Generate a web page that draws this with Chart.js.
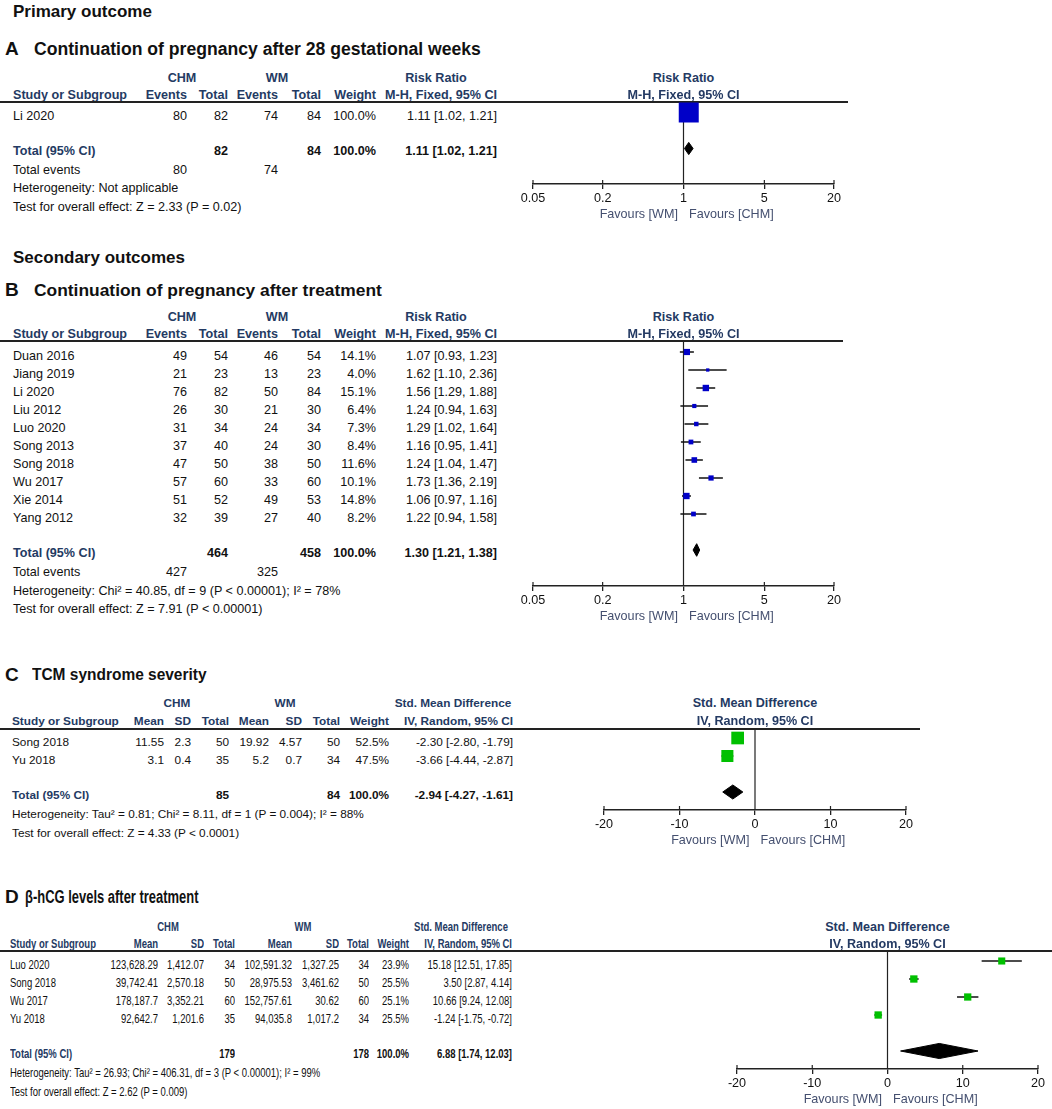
<!DOCTYPE html>
<html>
<head>
<meta charset="utf-8">
<script src="https://cdn.jsdelivr.net/npm/chart.js@4.4.1/dist/chart.umd.min.js"></script>
<style>
  body { margin: 0; background: #fff; }
  #page { position: relative; width: 1052px; height: 1109px; overflow: hidden;
          font-family: "Liberation Sans", Arial, sans-serif; color: #111; }
  .t { position: absolute; width: 440px; height: 20px; line-height: 20px; white-space: nowrap; }
  .hl { position: absolute; left: 0; height: 1.5px; background: #222; }
  canvas { position: absolute; }
</style>
</head>
<body>
<div id="page"></div>
<script>
// ---- A: continuation of pregnancy after 28 gestational weeks ----
const studiesA = ['Li 2020'];
const chmEventsA = [80];
const chmTotalA = [82];
const wmEventsA = [74];
const wmTotalA = [84];
const weightA = [100.0];
const rrA = [1.11];
const loA = [1.02];
const hiA = [1.21];
const totalA = [1.11, 1.02, 1.21];

// ---- B: continuation of pregnancy after treatment ----
const studiesB = ['Duan 2016', 'Jiang 2019', 'Li 2020', 'Liu 2012', 'Luo 2020',
                  'Song 2013', 'Song 2018', 'Wu 2017', 'Xie 2014', 'Yang 2012'];
const chmEventsB = [49, 21, 76, 26, 31, 37, 47, 57, 51, 32];
const chmTotalB = [54, 23, 82, 30, 34, 40, 50, 60, 52, 39];
const wmEventsB = [46, 13, 50, 21, 24, 24, 38, 33, 49, 27];
const wmTotalB = [54, 23, 84, 30, 34, 30, 50, 60, 53, 40];
const weightB = [14.1, 4.0, 15.1, 6.4, 7.3, 8.4, 11.6, 10.1, 14.8, 8.2];
const rrB = [1.07, 1.62, 1.56, 1.24, 1.29, 1.16, 1.24, 1.73, 1.06, 1.22];
const loB = [0.93, 1.10, 1.29, 0.94, 1.02, 0.95, 1.04, 1.36, 0.97, 0.94];
const hiB = [1.23, 2.36, 1.88, 1.63, 1.64, 1.41, 1.47, 2.19, 1.16, 1.58];
const totalB = [1.30, 1.21, 1.38];

// ---- C: TCM syndrome severity ----
const studiesC = ['Song 2018', 'Yu 2018'];
const chmMeanC = ['11.55', '3.1'];
const chmSdC = ['2.3', '0.4'];
const chmNC = [50, 35];
const wmMeanC = ['19.92', '5.2'];
const wmSdC = ['4.57', '0.7'];
const wmNC = [50, 34];
const weightC = [52.5, 47.5];
const smdC = [-2.30, -3.66];
const loC = [-2.80, -4.44];
const hiC = [-1.79, -2.87];
const totalC = [-2.94, -4.27, -1.61];

// ---- D: beta-hCG levels after treatment ----
const studiesD = ['Luo 2020', 'Song 2018', 'Wu 2017', 'Yu 2018'];
const chmMeanD = ['123,628.29', '39,742.41', '178,187.7', '92,642.7'];
const chmSdD = ['1,412.07', '2,570.18', '3,352.21', '1,201.6'];
const chmND = [34, 50, 60, 35];
const wmMeanD = ['102,591.32', '28,975.53', '152,757.61', '94,035.8'];
const wmSdD = ['1,327.25', '3,461.62', '30.62', '1,017.2'];
const wmND = [34, 50, 60, 34];
const weightD = [23.9, 25.5, 25.1, 25.5];
const smdD = [15.18, 3.50, 10.66, -1.24];
const loD = [12.51, 2.87, 9.24, -1.75];
const hiD = [17.85, 4.14, 12.08, -0.72];
const totalD = [6.88, 1.74, 12.03];

const ticksRR = [0.05, 0.2, 1, 5, 20];
const ticksSMD = [-20, -10, 0, 10, 20];

const page = document.getElementById('page');
const HEAD = '#243a63';
const FAV = '#444f6f';
const ROW = 18;
Chart.defaults.font.family = '"Liberation Sans", Arial, sans-serif';

function txt(x, y, s, o) {
  o = o || {};
  const a = o.a || 'l';
  const w = 440;
  const d = document.createElement('div');
  d.className = 't';
  d.textContent = s;
  d.style.left = (a === 'l' ? x : a === 'r' ? x - w : x - w / 2) + 'px';
  d.style.top = (y - 10) + 'px';
  d.style.textAlign = a === 'l' ? 'left' : a === 'r' ? 'right' : 'center';
  d.style.fontSize = (o.sz || 12.6) + 'px';
  if (o.b) d.style.fontWeight = 'bold';
  d.style.color = o.c || '#111';
  if (o.sx) {
    d.style.transform = 'scaleX(' + o.sx + ')';
    d.style.transformOrigin = (a === 'l' ? 'left' : a === 'r' ? 'right' : 'center') + ' center';
  }
  page.appendChild(d);
}

function hline(y, w) {
  const d = document.createElement('div');
  d.className = 'hl';
  d.style.top = (y - 0.75) + 'px';
  d.style.width = w + 'px';
  page.appendChild(d);
}

const sum = arr => arr.reduce((s, v) => s + v, 0);
const pct = v => v.toFixed(1) + '%';
const ci = (e, l, h) => e.toFixed(2) + ' [' + l.toFixed(2) + ', ' + h.toFixed(2) + ']';

function table(p) {
  const base = { sz: p.sz, sx: p.sx };
  const head = Object.assign({ b: 1, c: HEAD }, base);
  p.h1.forEach(h => txt(h[0], p.yH1, h[1], Object.assign({ a: 'c' }, head)));
  txt(p.sX, p.yH2, 'Study or Subgroup', head);
  p.h2.forEach((h, j) => txt(p.cX[j], p.yH2, h, Object.assign({ a: 'r' }, head)));
  hline(p.yLine, p.lineW);
  p.rows.forEach((r, i) => {
    const y = p.yRow + i * ROW;
    txt(p.sX, y, r[0], base);
    r.slice(1).forEach((c, j) => txt(p.cX[j], y, String(c), Object.assign({ a: 'r' }, base)));
  });
  txt(p.sX, p.yTot, 'Total (95% CI)', head);
  p.tot.forEach((c, j) => {
    if (c !== '') txt(p.cX[j], p.yTot, String(c), Object.assign({ a: 'r', b: 1 }, base));
  });
  p.notes.forEach(nt => {
    txt(p.sX, nt[0], nt[1], base);
    (nt[2] || []).forEach((c, j) => {
      if (c !== '') txt(p.cX[j], nt[0], String(c), Object.assign({ a: 'r' }, base));
    });
  });
}

// vertical line of no effect, plus the small upward half of each tick
const refPlugin = {
  id: 'refLine',
  beforeDatasetsDraw(chart, args, opts) {
    const ctx = chart.ctx, x = chart.scales.x, a = chart.chartArea;
    const px = x.getPixelForValue(opts.value);
    ctx.save();
    ctx.strokeStyle = '#222';
    ctx.lineWidth = 1.2;
    ctx.beginPath();
    ctx.moveTo(px, a.top);
    ctx.lineTo(px, a.bottom);
    x.ticks.forEach(t => {
      const tx = x.getPixelForValue(t.value);
      ctx.moveTo(tx, a.bottom - 4);
      ctx.lineTo(tx, a.bottom);
    });
    ctx.stroke();
    ctx.restore();
  }
};

function forest(o) {
  const n = o.est.length;
  const totRow = n + 1;
  const pad = 22, axH = 24;
  const ymin = -(o.first - o.top) / ROW;
  const ymax = (o.axis - o.first) / ROW;
  const cv = document.createElement('canvas');
  cv.width = o.right - o.left + 2 * pad;
  cv.height = Math.round((ymax - ymin) * ROW) + axH;
  cv.style.left = (o.left - pad) + 'px';
  cv.style.top = o.top + 'px';
  page.appendChild(cv);

  const datasets = [];
  for (let i = 0; i < n; i++) {
    datasets.push({
      data: [{ x: o.lo[i], y: i }, { x: o.hi[i], y: i }],
      showLine: true, borderColor: '#111', borderWidth: 1.5, pointRadius: 0, clip: false, order: 2
    });
  }
  datasets.push({
    data: o.est.map((v, i) => ({ x: v, y: i })),
    pointStyle: 'rect',
    pointRadius: o.wt.map(w => o.k * Math.sqrt(w) / Math.SQRT2),
    backgroundColor: o.color, borderWidth: 0, clip: false, order: 1
  });
  const t = o.tot;
  datasets.push({
    data: [{ x: t[1], y: totRow }, { x: t[0], y: totRow - o.dh }, { x: t[2], y: totRow },
           { x: t[0], y: totRow + o.dh }, { x: t[1], y: totRow }],
    showLine: true, fill: 'shape', tension: 0, backgroundColor: '#000',
    borderColor: '#000', borderWidth: 1, pointRadius: 0, clip: false, order: 1
  });

  const chart = new Chart(cv.getContext('2d'), {
    type: 'scatter',
    data: { datasets },
    options: {
      responsive: false,
      animation: false,
      events: [],
      layout: { autoPadding: false, padding: { left: pad, right: pad, top: 0, bottom: 0 } },
      plugins: { legend: { display: false }, tooltip: { enabled: false }, refLine: { value: o.ref } },
      scales: {
        x: {
          type: o.log ? 'logarithmic' : 'linear',
          min: o.ticks[0], max: o.ticks[o.ticks.length - 1],
          afterBuildTicks: s => { s.ticks = o.ticks.map(v => ({ value: v })); },
          afterFit: s => { s.height = axH; s.paddingLeft = 0; s.paddingRight = 0; },
          ticks: { callback: v => String(v), font: { size: 12.6 }, color: '#111',
                   padding: 2, maxRotation: 0, autoSkip: false },
          grid: { drawOnChartArea: false, drawTicks: true, tickLength: 5, color: '#222', lineWidth: 1.3 },
          border: { display: true, color: '#222', width: 1.6 }
        },
        y: { type: 'linear', min: ymin, max: ymax, reverse: true, display: false }
      }
    },
    plugins: [refPlugin]
  });

  const cx = o.left - pad + chart.scales.x.getPixelForValue(o.ref);
  txt(cx, o.yH1, o.head[0], { a: 'c', b: 1, c: HEAD });
  txt(cx, o.yH2, o.head[1], { a: 'c', b: 1, c: HEAD });
  txt(cx - 5.5, o.axis + 30, 'Favours [WM]', { a: 'r', c: FAV });
  txt(cx + 5.5, o.axis + 30, 'Favours [CHM]', { a: 'l', c: FAV });
}

// ---------- titles ----------
txt(13, 12, 'Primary outcome', { b: 1, sz: 17 });
txt(5, 49, 'A', { b: 1, sz: 19 });
txt(34, 49, 'Continuation of pregnancy after 28 gestational weeks', { b: 1, sz: 17.6 });
txt(13, 258, 'Secondary outcomes', { b: 1, sz: 17 });
txt(5, 290, 'B', { b: 1, sz: 19 });
txt(34, 290, 'Continuation of pregnancy after treatment', { b: 1, sz: 17.4 });
txt(5, 675, 'C', { b: 1, sz: 19 });
txt(32, 675, 'TCM syndrome severity', { b: 1, sz: 17, sx: 0.91 });
txt(5, 897, 'D', { b: 1, sz: 19 });
txt(25, 897, 'β-hCG levels after treatment', { b: 1, sz: 18, sx: 0.72 });

// ---------- panel A ----------
const colRR = [187, 228, 278, 321, 376, 497];
const headRR = ['Events', 'Total', 'Events', 'Total', 'Weight', 'M-H, Fixed, 95% CI'];
table({
  sz: 12.6, sX: 13, cX: colRR, yH1: 78, yH2: 95, yLine: 102, lineW: 848,
  h1: [[182, 'CHM'], [277, 'WM'], [436, 'Risk Ratio']], h2: headRR,
  rows: studiesA.map((s, i) => [s, chmEventsA[i], chmTotalA[i], wmEventsA[i], wmTotalA[i],
                                pct(weightA[i]), ci(rrA[i], loA[i], hiA[i])]),
  yRow: 116, yTot: 151,
  tot: ['', sum(chmTotalA), '', sum(wmTotalA), '100.0%', ci(totalA[0], totalA[1], totalA[2])],
  notes: [[169.5, 'Total events', [sum(chmEventsA), '', sum(wmEventsA)]],
          [188, 'Heterogeneity: Not applicable'],
          [207, 'Test for overall effect: Z = 2.33 (P = 0.02)']]
});
forest({
  est: rrA, lo: loA, hi: hiA, wt: weightA, tot: totalA, k: 2.0, dh: 0.34,
  color: '#0000c8', log: true, ref: 1, ticks: ticksRR,
  left: 533, right: 834, top: 102, first: 112.5, axis: 184,
  yH1: 78, yH2: 95, head: ['Risk Ratio', 'M-H, Fixed, 95% CI']
});

// ---------- panel B ----------
table({
  sz: 12.6, sX: 13, cX: colRR, yH1: 317, yH2: 334, yLine: 341, lineW: 843,
  h1: [[182, 'CHM'], [277, 'WM'], [436, 'Risk Ratio']], h2: headRR,
  rows: studiesB.map((s, i) => [s, chmEventsB[i], chmTotalB[i], wmEventsB[i], wmTotalB[i],
                                pct(weightB[i]), ci(rrB[i], loB[i], hiB[i])]),
  yRow: 356, yTot: 553,
  tot: ['', sum(chmTotalB), '', sum(wmTotalB), '100.0%', ci(totalB[0], totalB[1], totalB[2])],
  notes: [[572, 'Total events', [sum(chmEventsB), '', sum(wmEventsB)]],
          [591, 'Heterogeneity: Chi² = 40.85, df = 9 (P < 0.00001); I² = 78%'],
          [609, 'Test for overall effect: Z = 7.91 (P < 0.00001)']]
});
forest({
  est: rrB, lo: loB, hi: hiB, wt: weightB, tot: totalB, k: 1.65, dh: 0.35,
  color: '#0000c8', log: true, ref: 1, ticks: ticksRR,
  left: 533, right: 834, top: 341, first: 352, axis: 586,
  yH1: 317, yH2: 334, head: ['Risk Ratio', 'M-H, Fixed, 95% CI']
});

// ---------- panel C ----------
const headSMD = ['Mean', 'SD', 'Total', 'Mean', 'SD', 'Total', 'Weight', 'IV, Random, 95% CI'];
table({
  sz: 11.8, sX: 12, cX: [164, 191, 229, 269, 302, 340, 389, 513],
  yH1: 703, yH2: 721, yLine: 729, lineW: 920,
  h1: [[177, 'CHM'], [285, 'WM'], [453, 'Std. Mean Difference']], h2: headSMD,
  rows: studiesC.map((s, i) => [s, chmMeanC[i], chmSdC[i], chmNC[i], wmMeanC[i], wmSdC[i], wmNC[i],
                                pct(weightC[i]), ci(smdC[i], loC[i], hiC[i])]),
  yRow: 742, yTot: 795,
  tot: ['', '', sum(chmNC), '', '', sum(wmNC), '100.0%', ci(totalC[0], totalC[1], totalC[2])],
  notes: [[814, 'Heterogeneity: Tau² = 0.81; Chi² = 8.11, df = 1 (P = 0.004); I² = 88%'],
          [833, 'Test for overall effect: Z = 4.33 (P < 0.0001)']]
});
forest({
  est: smdC, lo: loC, hi: hiC, wt: weightC, tot: totalC, k: 1.75, dh: 0.39,
  color: '#00c000', log: false, ref: 0, ticks: ticksSMD,
  left: 604, right: 906, top: 729, first: 738, axis: 810,
  yH1: 703, yH2: 721, head: ['Std. Mean Difference', 'IV, Random, 95% CI']
});

// ---------- panel D ----------
table({
  sz: 13, sx: 0.73, sX: 10, cX: [158, 204, 235, 292, 339, 369, 409, 512],
  yH1: 927, yH2: 944, yLine: 951, lineW: 1052,
  h1: [[168, 'CHM'], [303, 'WM'], [461, 'Std. Mean Difference']], h2: headSMD,
  rows: studiesD.map((s, i) => [s, chmMeanD[i], chmSdD[i], chmND[i], wmMeanD[i], wmSdD[i], wmND[i],
                                pct(weightD[i]), ci(smdD[i], loD[i], hiD[i])]),
  yRow: 965, yTot: 1054,
  tot: ['', '', sum(chmND), '', '', sum(wmND), '100.0%', ci(totalD[0], totalD[1], totalD[2])],
  notes: [[1073, 'Heterogeneity: Tau² = 26.93; Chi² = 406.31, df = 3 (P < 0.00001); I² = 99%'],
          [1092, 'Test for overall effect: Z = 2.62 (P = 0.009)']]
});
forest({
  est: smdD, lo: loD, hi: hiD, wt: weightD, tot: totalD, k: 1.45, dh: 0.42,
  color: '#00c000', log: false, ref: 0, ticks: ticksSMD,
  left: 737, right: 1038, top: 951, first: 961, axis: 1069,
  yH1: 927, yH2: 944, head: ['Std. Mean Difference', 'IV, Random, 95% CI']
});
</script>
</body>
</html>
